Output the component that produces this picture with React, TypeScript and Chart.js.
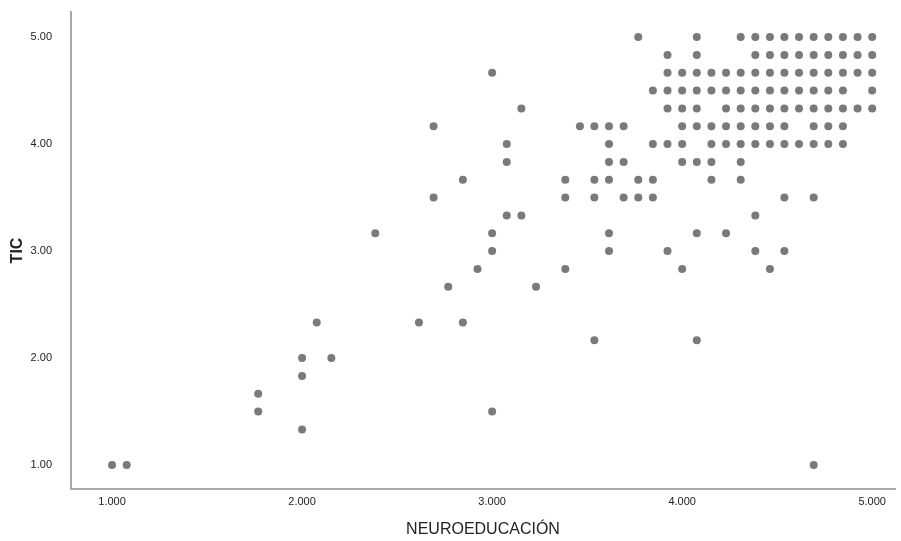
import React, { useEffect, useRef } from "react";
import { Chart, registerables } from "chart.js";

Chart.register(...registerables);

// Axis tick values
const xTickValues = [1, 2, 3, 4, 5];
const yTickValues = [1, 2, 3, 4, 5];

// TIC levels (y) and the NEUROEDUCACIÓN values (x) observed at each level
const ticLevels = [
  1.0, 1.333, 1.5, 1.667, 1.833, 2.0, 2.167, 2.333, 2.667, 2.833, 3.0, 3.167,
  3.333, 3.5, 3.667, 3.833, 4.0, 4.167, 4.333, 4.5, 4.667, 4.833, 5.0,
];

const neuroAtTic1000 = [1.0, 1.077, 4.692];
const neuroAtTic1333 = [2.0];
const neuroAtTic1500 = [1.769, 3.0];
const neuroAtTic1667 = [1.769];
const neuroAtTic1833 = [2.0];
const neuroAtTic2000 = [2.0, 2.154];
const neuroAtTic2167 = [3.538, 4.077];
const neuroAtTic2333 = [2.077, 2.615, 2.846];
const neuroAtTic2667 = [2.769, 3.231];
const neuroAtTic2833 = [2.923, 3.385, 4.0, 4.462];
const neuroAtTic3000 = [3.0, 3.615, 3.923, 4.385, 4.538];
const neuroAtTic3167 = [2.385, 3.0, 3.615, 4.077, 4.231];
const neuroAtTic3333 = [3.077, 3.154, 4.385];
const neuroAtTic3500 = [2.692, 3.385, 3.538, 3.692, 3.769, 3.846, 4.538, 4.692];
const neuroAtTic3667 = [2.846, 3.385, 3.538, 3.615, 3.769, 3.846, 4.154, 4.308];
const neuroAtTic3833 = [3.077, 3.615, 3.692, 4.0, 4.077, 4.154, 4.308];
const neuroAtTic4000 = [
  3.077, 3.615, 3.846, 3.923, 4.0, 4.154, 4.231, 4.308, 4.385, 4.462, 4.538,
  4.615, 4.692, 4.769, 4.846,
];
const neuroAtTic4167 = [
  2.692, 3.462, 3.538, 3.615, 3.692, 4.0, 4.077, 4.154, 4.231, 4.308, 4.385,
  4.462, 4.538, 4.692, 4.769, 4.846,
];
const neuroAtTic4333 = [
  3.154, 3.923, 4.0, 4.077, 4.231, 4.308, 4.385, 4.462, 4.538, 4.615, 4.692,
  4.769, 4.846, 4.923, 5.0,
];
const neuroAtTic4500 = [
  3.846, 3.923, 4.0, 4.077, 4.154, 4.231, 4.308, 4.385, 4.462, 4.538, 4.615,
  4.692, 4.769, 4.846, 5.0,
];
const neuroAtTic4667 = [
  3.0, 3.923, 4.0, 4.077, 4.154, 4.231, 4.308, 4.385, 4.462, 4.538, 4.615,
  4.692, 4.769, 4.846, 4.923, 5.0,
];
const neuroAtTic4833 = [
  3.923, 4.077, 4.385, 4.462, 4.538, 4.615, 4.692, 4.769, 4.846, 4.923, 5.0,
];
const neuroAtTic5000 = [
  3.769, 4.077, 4.308, 4.385, 4.462, 4.538, 4.615, 4.692, 4.769, 4.846, 4.923,
  5.0,
];

const neuroByTic = [
  neuroAtTic1000, neuroAtTic1333, neuroAtTic1500, neuroAtTic1667,
  neuroAtTic1833, neuroAtTic2000, neuroAtTic2167, neuroAtTic2333,
  neuroAtTic2667, neuroAtTic2833, neuroAtTic3000, neuroAtTic3167,
  neuroAtTic3333, neuroAtTic3500, neuroAtTic3667, neuroAtTic3833,
  neuroAtTic4000, neuroAtTic4167, neuroAtTic4333, neuroAtTic4500,
  neuroAtTic4667, neuroAtTic4833, neuroAtTic5000,
];

const FONT = "'Liberation Sans', Arial, sans-serif";

export default function App() {
  const canvasRef = useRef<HTMLCanvasElement | null>(null);

  useEffect(() => {
    if (!canvasRef.current) return;
    const points = ticLevels.flatMap((t, i) =>
      neuroByTic[i].map((n) => ({ x: n, y: t }))
    );
    const chart = new Chart(canvasRef.current, {
      type: "scatter",
      data: {
        datasets: [
          {
            label: "TIC",
            data: points,
            backgroundColor: "#7a7a7a",
            borderColor: "#7a7a7a",
            borderWidth: 0,
            pointRadius: 4,
            pointHoverRadius: 4,
          },
        ],
      },
      options: {
        responsive: false,
        animation: false,
        layout: { padding: { left: 0, top: 12, right: 6, bottom: 0 } },
        plugins: {
          legend: { display: false },
          tooltip: { enabled: false },
        },
        scales: {
          x: {
            type: "linear",
            min: 0.784,
            max: 5.12,
            afterBuildTicks: (s: any) => {
              s.ticks = xTickValues.map((v) => ({ value: v }));
            },
            afterFit: (s: any) => {
              s.height = 52;
              s.paddingLeft = 0;
              s.paddingRight = 0;
            },
            ticks: {
              callback: (v: any) => Number(v).toFixed(3),
              font: { family: FONT, size: 11 },
              color: "#222",
              padding: 6,
              maxRotation: 0,
              autoSkip: false,
            },
            grid: { display: false, drawTicks: false },
            border: { display: true, color: "#a8a8a8", width: 2 },
            title: {
              display: true,
              text: "NEUROEDUCACIÓN",
              font: { family: FONT, size: 16 },
              color: "#222",
              padding: { top: 0, bottom: 2 },
            },
          },
          y: {
            type: "linear",
            min: 0.776,
            max: 5.234,
            afterBuildTicks: (s: any) => {
              s.ticks = yTickValues.map((v) => ({ value: v }));
            },
            afterFit: (s: any) => {
              s.width = 71;
              s.paddingTop = 0;
              s.paddingBottom = 0;
            },
            ticks: {
              callback: (v: any) => Number(v).toFixed(2),
              font: { family: FONT, size: 11 },
              color: "#222",
              padding: 19,
              autoSkip: false,
            },
            grid: { display: false, drawTicks: false },
            border: { display: true, color: "#a8a8a8", width: 2 },
            title: {
              display: true,
              text: "TIC",
              font: { family: FONT, size: 16, weight: "bold" },
              color: "#222",
              padding: { top: 7.5, bottom: 0 },
            },
          },
        },
      },
    });
    return () => chart.destroy();
  }, []);

  return (
    <div
      style={{
        position: "absolute",
        left: 0,
        top: 0,
        width: 901,
        height: 541,
        background: "#fff",
      }}
    >
      <canvas ref={canvasRef} width={901} height={541} />
    </div>
  );
}
